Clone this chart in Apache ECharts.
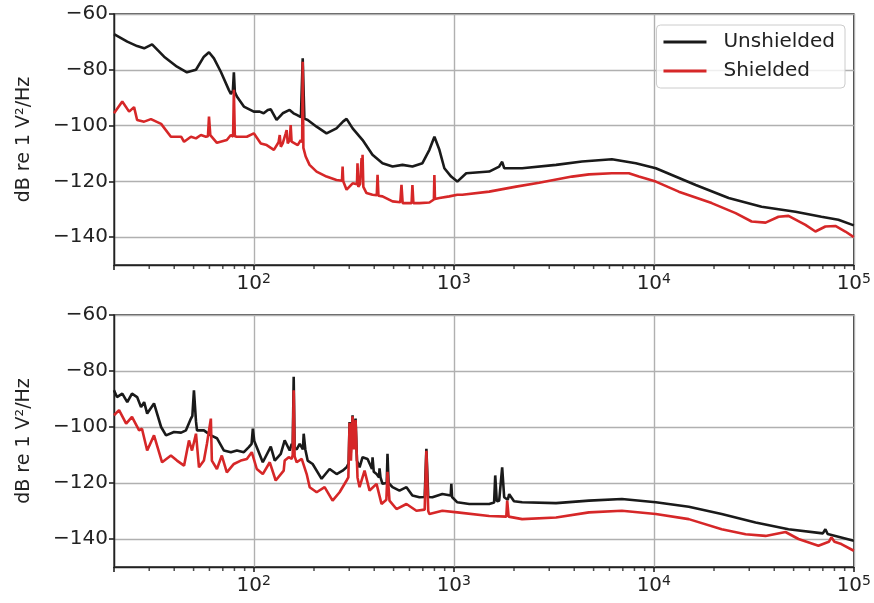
<!DOCTYPE html>
<html>
<head>
<meta charset="utf-8">
<script src="https://cdn.jsdelivr.net/npm/echarts@6/dist/echarts.min.js"></script>
<style>
  html, body { margin: 0; padding: 0; background: #fff; }
  #chart { width: 874px; height: 603px; }
</style>
</head>
<body>
<div id="chart"></div>
<script>
// 频率 (Hz) / 电平 (dB re 1 V²/Hz)
const topUnshielded = [
  [20, -67.2], [23.3, -69.9], [26.1, -71.5], [28.3, -72.3], [31, -70.9], [35.6, -75.3],
  [41.3, -78.9], [46.3, -80.9], [51.4, -80.0], [56.3, -75.3], [59.7, -73.7], [63.2, -75.9],
  [68.4, -80.7], [75, -87.2], [76.8, -88.7], [78.6, -87.5], [79.5, -80.9], [80.4, -88],
  [82.3, -89.6], [89.2, -93.2], [100, -95.0], [107, -95.0], [112, -95.6], [117.5, -94.4],
  [121.6, -94.2], [130, -98.0], [139.5, -95.6], [151, -94.4], [158, -95.6], [164, -96.2],
  [172, -97], [175.6, -75.9], [179, -97.5], [186, -98], [206, -100.4], [231, -102.8],
  [259, -101], [280, -98.5], [291, -97.6], [312, -101], [350, -105.2], [392, -110.5],
  [440, -113.5], [494, -114.7], [554, -114.1], [621, -114.7], [697, -113.5], [755, -108.7],
  [800, -104], [847, -108.7], [897, -115.3], [970, -118.3], [1041, -120.1], [1065, -120],
  [1154, -117.1], [1503, -116.5], [1686, -114.7], [1745, -113], [1786, -115.3], [2196, -115.3],
  [3245, -114.1], [4375, -112.9], [6173, -112.1], [8131, -113.5], [10233, -115.3], [16200, -121.3],
  [23670, -126], [34580, -129.1], [51070, -130.9], [68850, -132.7], [83700, -133.8], [100000, -135.8]
];
const topShielded = [
  [20, -95.6], [22, -91.4], [23.8, -95], [25.2, -93.4], [26.1, -98], [28.3, -98.6],
  [30.6, -97.7], [34.4, -99.4], [38.5, -104], [43.3, -104], [44.8, -105.8], [48.5, -104],
  [51.4, -104.6], [54.4, -103.4], [57.6, -104], [59, -103.8], [59.7, -96.8], [60.6, -103.4],
  [65.4, -106.2], [73.3, -105.2], [76.8, -103.4], [78.8, -104], [79.5, -87.2], [80.4, -103.8],
  [82.3, -104], [92.3, -104], [100, -102.8], [108.4, -106.4], [116, -107], [126, -108.7],
  [133, -106], [134.8, -103.4], [136.5, -107.6], [139.5, -106.4], [144.4, -102.8], [146, -101.6],
  [147.8, -106.4], [151.5, -105], [152.9, -99.8], [154.5, -105.8], [156.5, -106], [165.8, -107],
  [171.6, -105.2], [174.5, -106], [175.6, -77.1], [177, -108], [181.7, -111.1], [190, -114.1],
  [206, -116.5], [231, -118.3], [259, -119.5], [276, -119.8], [278, -114.7], [280, -120],
  [291, -123], [312, -120.7], [328, -121], [330, -113.5], [333, -122], [340, -121],
  [345.8, -111.7], [347.8, -118], [349.8, -110.5], [353, -122], [366, -124.2], [392, -124.8],
  [412, -125], [415.7, -117.7], [420, -125.2], [440, -125.4], [494, -127.2], [540, -127.5],
  [547.5, -121.3], [555, -127.8], [580, -127.8], [615, -127.8], [621, -121.3], [628, -127.8],
  [673, -127.8], [755, -127.6], [795, -126.5], [799.6, -117.7], [805, -126.3], [847, -126],
  [950, -125.4], [1041, -124.8], [1103, -124.8], [1503, -123.7], [2050, -121.9], [2669, -120.5],
  [3899, -118.3], [4741, -117.5], [6173, -117.1], [7504, -117.1], [8418, -118.3], [10233, -120.1],
  [13327, -123.7], [19470, -127.8], [25650, -131.4], [30830, -134.4], [36210, -134.8], [42030, -132.7],
  [47130, -132.4], [57300, -135.6], [64270, -138], [72090, -136.2], [80850, -136], [90710, -138],
  [100000, -140]
];
const bottomUnshielded = [
  [20, -86.9], [20.7, -89.3], [22, -88.1], [23.3, -91.1], [24.6, -88.1], [26.1, -89.3],
  [27.3, -92.9], [28.3, -91.1], [29.3, -95.2], [31.7, -91.6], [34.4, -100], [36.4, -103],
  [39.9, -101.8], [43.3, -102], [45.8, -101.2], [48.5, -97], [49.3, -96], [50.2, -86.9],
  [51.4, -98], [52, -101.2], [56.3, -101.2], [61, -103], [65.4, -104], [70.9, -108.4],
  [76.8, -109], [82.3, -108.4], [89.2, -109], [94.4, -107.2], [97.5, -106], [98.9, -100.6],
  [100.5, -105], [103.5, -107.2], [110.9, -112.6], [112.2, -113.2], [121.6, -107], [127.3, -112],
  [130.2, -112], [136.4, -109.6], [142.7, -104.8], [146, -105.4], [151.2, -108.4], [154.7, -106],
  [156.5, -107], [158.3, -82.1], [160, -107.5], [163.8, -108], [169.6, -106], [176, -108],
  [177.6, -102.4], [181, -108], [185.9, -112], [196.9, -113.2], [218.3, -118.5], [239.3, -115],
  [259.4, -116.8], [277.9, -115.6], [291, -114.4], [298, -113], [301.2, -98.2], [305, -110],
  [311.8, -95.8], [316, -105], [322.7, -97], [328, -112], [337.9, -114.4], [349.8, -110.8],
  [370.5, -111.4], [390, -115], [392.4, -110.8], [398, -116], [410.9, -116.8], [423, -118],
  [425.2, -114.8], [430, -118], [440.1, -120.3], [462, -120], [466.1, -109.6], [472, -120],
  [493.6, -121.5], [535, -122.7], [579.8, -121.5], [620.9, -124.5], [672.9, -125.1], [715, -125],
  [729.3, -107.8], [745, -125], [781.4, -125.1], [876.5, -123.9], [965, -124.5], [971.7, -120.3],
  [980, -125], [1041, -126.9], [1195, -127.5], [1503, -127.5], [1590, -127], [1611, -117.3],
  [1640, -126.5], [1686, -126.3], [1745, -114.4], [1786, -125.1], [1860, -126], [1892, -124],
  [2000, -126.5], [2196, -126.9], [3245, -127.2], [4741, -126.3], [6925, -125.7], [10233, -126.9],
  [14950, -128.5], [21840, -131.1], [32270, -134.1], [47130, -136.5], [70000, -138], [72090, -136.5],
  [74000, -138.2], [100000, -140.6]
];
const bottomShielded = [
  [20, -95.8], [21.2, -94], [23, -98.8], [24.6, -96.4], [26.7, -101.2], [27.6, -100.6],
  [29.3, -108.4], [31.7, -103], [34.8, -112.6], [38.5, -110.2], [41.3, -112], [44.8, -113.8],
  [47.4, -104.8], [49.1, -108.4], [51.4, -102.4], [53.2, -114.4], [56.3, -112], [58.3, -106],
  [61, -97], [61.7, -112], [65.4, -115], [69.2, -110.2], [73.3, -116.2], [79.5, -113.2],
  [86.1, -112], [92.3, -111.4], [97.7, -109], [103.5, -115], [110.9, -116.8], [112.2, -116.8],
  [120.2, -112.6], [128.7, -119.1], [141.1, -115.6], [142.7, -112], [149.5, -110.8], [151.2, -110.8],
  [154.7, -111.4], [156.5, -110], [158.3, -86.9], [160, -110.5], [163.8, -112.6], [173.6, -111.4],
  [183.8, -116.8], [190.3, -121.5], [206.2, -123.3], [226, -121.5], [247.7, -126.3], [268.5, -123.3],
  [291, -119.1], [297, -118], [301.2, -98.5], [306, -112], [311.8, -96.2], [317, -108],
  [322.7, -97.5], [330, -118], [337.9, -121.5], [357.9, -115.6], [379.1, -122.7], [410.9, -120.3],
  [435.1, -127.5], [460, -126], [466.1, -116], [476.9, -126.3], [516.8, -129.3], [579.8, -127.5],
  [650.1, -129.9], [715, -129.5], [729.3, -108.5], [745, -130], [754.9, -131.1], [876.5, -129.9],
  [1041, -130.5], [1503, -131.8], [1830, -132], [1849, -126.3], [1880, -132], [2196, -132.9],
  [3245, -132.3], [4741, -130.5], [6925, -129.9], [10233, -131.1], [14950, -132.9], [21840, -136.5],
  [28770, -138.3], [36210, -138.9], [45540, -137.5], [52870, -140], [66530, -142.4], [75000, -141],
  [77230, -139.4], [80000, -141], [86640, -141.8], [100000, -144.2]
];

// 刻度
const yTicks = [-140, -120, -100, -80, -60];
const minorTicks = [30, 40, 50, 60, 70, 80, 90, 200, 300, 400, 500, 600, 700, 800, 900,
  2000, 3000, 4000, 5000, 6000, 7000, 8000, 9000, 20000, 30000, 40000, 50000, 60000, 70000, 80000, 90000];

const seriesNames = ['Unshielded', 'Shielded'];
const colors = ['#1a1a1a', '#d62728'];
const font = 'DejaVu Sans';
const dark = '#222';

const dom = document.getElementById('chart');
const myChart = echarts.init(dom);

function xAxisFor(gridIndex) {
  return {
    type: 'log',
    logBase: 10,
    gridIndex: gridIndex,
    min: 20,
    max: 100000,
    axisLine: { lineStyle: { color: dark, width: 1.4 } },
    axisTick: { length: 5, lineStyle: { color: dark, width: 1.6 } },
    axisLabel: {
      margin: 7,
      formatter: function (v) {
        const e = Math.round(Math.log10(v));
        if (Math.abs(v - Math.pow(10, e)) > 1e-6 * v) return '';
        return '{b|10}{s|' + e + '}';
      },
      rich: {
        b: { fontFamily: font, fontSize: 20, color: dark, lineHeight: 24 },
        s: { fontFamily: font, fontSize: 14, color: dark, verticalAlign: 'top', lineHeight: 14 }
      }
    },
    splitLine: { show: true, lineStyle: { color: '#b0b0b0', width: 1.4 } }
  };
}

function yAxisFor(gridIndex) {
  return {
    type: 'value',
    gridIndex: gridIndex,
    min: -150,
    max: -60,
    name: 'dB re 1 V²/Hz',
    nameLocation: 'middle',
    nameGap: 80,
    nameTextStyle: { fontFamily: font, fontSize: 19, color: dark },
    axisLine: { show: true, lineStyle: { color: dark, width: 1.4 } },
    axisTick: { show: true, length: 5, customValues: yTicks, lineStyle: { color: dark, width: 1.6 } },
    axisLabel: {
      customValues: yTicks,
      margin: 6,
      fontFamily: font,
      fontSize: 20,
      color: dark,
      formatter: function (v) { return v < 0 ? '\u2212' + Math.abs(v) : String(v); }
    },
    splitLine: { show: true, lineStyle: { color: '#b0b0b0', width: 1.4 } }
  };
}

function lineSeries(name, data, idx, color) {
  return {
    name: name,
    type: 'line',
    data: data,
    xAxisIndex: idx,
    yAxisIndex: idx,
    showSymbol: false,
    symbol: 'none',
    color: color,
    lineStyle: { color: color, width: 2.6 },
    animation: false
  };
}

// 次刻度：在轴下方画短竖线
function minorTickSeries(idx) {
  return {
    type: 'scatter',
    xAxisIndex: idx,
    yAxisIndex: idx,
    silent: true,
    clip: false,
    symbol: 'rect',
    symbolSize: [1.5, 4],
    symbolOffset: [0, 2],
    itemStyle: { color: dark },
    data: minorTicks.map(f => [f, -150]),
    animation: false,
    z: 5
  };
}

const option = {
  backgroundColor: '#fff',
  animation: false,
  textStyle: { fontFamily: font },
  grid: [
    { left: 114, right: 19, top: 14, height: 251, show: true, borderColor: dark, borderWidth: 1.4, backgroundColor: 'transparent' },
    { left: 114, right: 19, top: 315, height: 252, show: true, borderColor: dark, borderWidth: 1.4, backgroundColor: 'transparent' }
  ],
  legend: {
    data: seriesNames,
    orient: 'vertical',
    top: 25,
    right: 29,
    icon: 'rect',
    itemWidth: 43,
    itemHeight: 3,
    itemGap: 7,
    padding: [6, 10, 6, 7],
    backgroundColor: 'rgba(255,255,255,0.8)',
    borderColor: '#cccccc',
    borderWidth: 1,
    borderRadius: 4,
    textStyle: { fontFamily: font, fontSize: 20, color: dark, lineHeight: 22, padding: [0, 0, 0, 12] }
  },
  xAxis: [xAxisFor(0), xAxisFor(1)],
  yAxis: [yAxisFor(0), yAxisFor(1)],
  series: [
    lineSeries(seriesNames[0], topUnshielded, 0, colors[0]),
    lineSeries(seriesNames[1], topShielded, 0, colors[1]),
    lineSeries(seriesNames[0], bottomUnshielded, 1, colors[0]),
    lineSeries(seriesNames[1], bottomShielded, 1, colors[1]),
    minorTickSeries(0),
    minorTickSeries(1)
  ]
};

myChart.setOption(option);
</script>
</body>
</html>
